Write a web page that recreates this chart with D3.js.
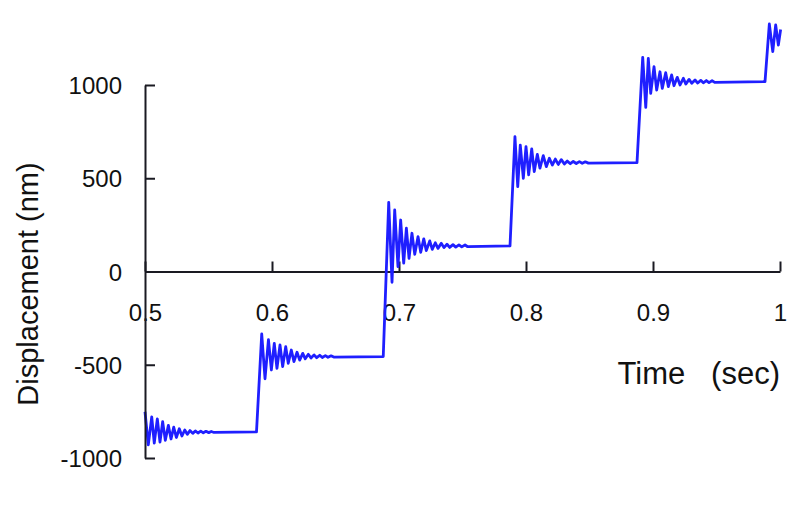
<!DOCTYPE html>
<html>
<head>
<meta charset="utf-8">
<script src="https://cdn.jsdelivr.net/npm/d3@7"></script>
<style>
  html, body { margin: 0; padding: 0; background: #fff; }
  svg { display: block; }
  text { font-family: "Liberation Sans", Arial, sans-serif; fill: #111; }
</style>
</head>
<body>
<svg id="chart" width="801" height="514"></svg>
<script>
// ---- data (time in sec, displacement in nm) ----
const xTicks = [0.5, 0.6, 0.7, 0.8, 0.9, 1];
const yTicks = [-1000, -500, 0, 500, 1000];

const seg1 = [[0.5000,-752],[0.5026,-930],[0.5053,-780],[0.5073,-920],[0.5097,-790],[0.5118,-915],
  [0.5139,-805],[0.5160,-905],[0.5184,-825],[0.5205,-898],[0.5226,-835],[0.5247,-890],[0.5270,-843],
  [0.5291,-882],[0.5313,-850],[0.5333,-873],[0.5354,-853],[0.5376,-868],[0.5396,-855],[0.5417,-866],
  [0.5439,-856],[0.5459,-865],[0.5480,-857],[0.5502,-864],[0.5522,-858],[0.5543,-863],[0.5878,-860]];

const seg2 = [[0.5919,-335],[0.5945,-575],[0.5972,-365],[0.5995,-528],[0.6018,-385],[0.6039,-519],
  [0.6063,-394],[0.6084,-510],[0.6108,-403],[0.6128,-492],[0.6152,-421],[0.6173,-483],[0.6197,-433],
  [0.6218,-475],[0.6242,-439],[0.6262,-468],[0.6286,-444],[0.6307,-464],[0.6331,-447],[0.6352,-462],
  [0.6376,-449],[0.6396,-461],[0.6420,-451],[0.6441,-460],[0.6465,-452],[0.6486,-459],[0.6876,-456]];

const seg3 = [[0.6919,371],[0.6945,-58],[0.6966,330],[0.6992,26],[0.7013,276],[0.7037,45],
  [0.7058,232],[0.7079,71],[0.7102,205],[0.7124,92],[0.7150,187],[0.7171,103],[0.7195,175],
  [0.7215,112],[0.7242,164],[0.7262,119],[0.7286,154],[0.7307,124],[0.7333,151],[0.7354,128],
  [0.7378,146],[0.7399,129],[0.7425,144],[0.7447,131],[0.7472,143],[0.7494,132],[0.7520,142],
  [0.7541,133],[0.7874,137]];

const seg4 = [[0.7913,723],[0.7935,455],[0.7955,678],[0.7979,500],[0.8000,669],[0.8021,518],
  [0.8045,657],[0.8065,536],[0.8089,628],[0.8110,554],[0.8136,621],[0.8160,562],[0.8184,607],
  [0.8207,571],[0.8231,603],[0.8254,574],[0.8278,600],[0.8302,576],[0.8325,592],[0.8349,578],
  [0.8372,590],[0.8396,579],[0.8420,589],[0.8443,580],[0.8467,588],[0.8491,581],[0.8874,584]];

const seg5 = [[0.8919,1148],[0.8943,880],[0.8963,1143],[0.8982,955],[0.9008,1098],[0.9029,973],
  [0.9055,1071],[0.9073,982],[0.9100,1066],[0.9121,991],[0.9147,1054],[0.9165,996],[0.9191,1041],
  [0.9213,1000],[0.9239,1036],[0.9258,1005],[0.9284,1030],[0.9305,1009],[0.9331,1027],[0.9352,1011],
  [0.9376,1025],[0.9396,1012],[0.9420,1024],[0.9441,1013],[0.9465,1023],[0.9486,1014],[0.9882,1018]];

const seg6 = [[0.9916,1327],[0.9943,1179],[0.9966,1322],[0.9987,1214],[1.0005,1298]];

const series = [].concat(seg1, seg2, seg3, seg4, seg5, seg6);

// ---- chart ----
const svg = d3.select("#chart");
const x = d3.scaleLinear().domain([0.5, 1]).range([145, 780]);
const y = d3.scaleLinear().domain([-1000, 1000]).range([458, 85]);

const line = d3.line().x(d => x(d[0])).y(d => y(d[1]));

svg.append("path")
  .datum(series)
  .attr("d", line)
  .attr("fill", "none")
  .attr("stroke", "#1f1fff")
  .attr("stroke-width", 2.8)
  .attr("stroke-linejoin", "round");

const xAxis = d3.axisBottom(x)
  .tickValues(xTicks)
  .tickFormat(d => String(d))
  .tickSizeInner(-10).tickSizeOuter(0).tickPadding(32);

const yAxis = d3.axisLeft(y)
  .tickValues(yTicks)
  .tickFormat(d => String(d))
  .tickSizeInner(-10).tickSizeOuter(0).tickPadding(23);

const gx = svg.append("g").attr("transform", `translate(0,${y(0)})`).call(xAxis);
const gy = svg.append("g").attr("transform", `translate(${x(0.5)},0)`).call(yAxis);

[gx, gy].forEach(g => {
  g.select(".domain").attr("stroke", "#1a1a22").attr("stroke-width", 2);
  g.selectAll(".tick line").attr("stroke", "#1a1a22").attr("stroke-width", 2);
  g.selectAll(".tick text")
    .attr("fill", "#111")
    .style("font-family", '"Liberation Sans", Arial, sans-serif')
    .style("font-size", "24px");
});
gx.selectAll(".tick text").attr("dy", "0.71em");
gy.selectAll(".tick text").attr("dy", "0.36em");
// draw x tick labels beneath the y axis line
gx.lower();

svg.append("text")
  .attr("transform", "translate(38,284) rotate(-90)")
  .attr("text-anchor", "middle")
  .style("font-size", "29px")
  .text("Displacement (nm)");

svg.append("text")
  .attr("x", 780).attr("y", 384)
  .attr("text-anchor", "end")
  .attr("xml:space", "preserve")
  .style("white-space", "pre")
  .style("font-size", "31px")
  .text("Time   (sec)");
</script>
</body>
</html>
